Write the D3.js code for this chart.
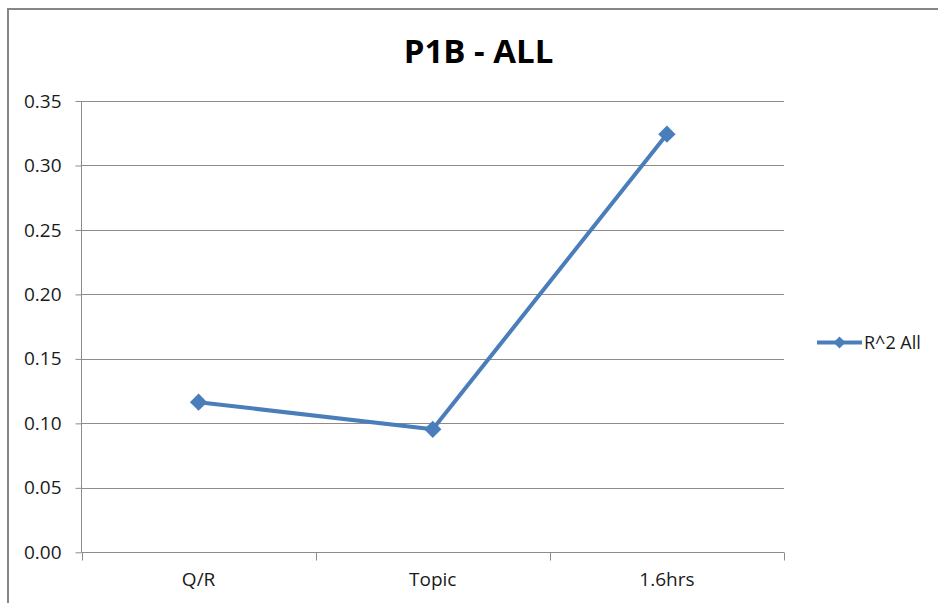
<!DOCTYPE html>
<html><head><meta charset="utf-8">
<script src="https://cdn.jsdelivr.net/npm/d3@7"></script>
<style>body{margin:0;background:#fff}svg{display:block}</style>
</head><body>
<script>
const categories = ["Q/R", "Topic", "1.6hrs"];
const values = [0.1164, 0.0954, 0.3243];
const yTicks = [0, 0.05, 0.10, 0.15, 0.20, 0.25, 0.30, 0.35];
const seriesName = "R^2 All";
const title = "P1B - ALL";

const W = 938, H = 603;
const svg = d3.select("body").append("svg").attr("width", W).attr("height", H);
svg.append("rect").attr("x", 8).attr("y", 9).attr("width", 936).attr("height", 620)
  .attr("fill", "#fff").attr("stroke", "#868686").attr("stroke-width", 2);

const L = 81.5, R = 784, T = 101, B = 552.3;
const font = "'Open Sans', 'Liberation Sans', sans-serif";
const x = d3.scaleBand().domain(categories).range([L, R]);
const y = d3.scaleLinear().domain([0, 0.35]).range([B, T]);

// gridlines
svg.append("g").selectAll("line").data(yTicks.slice(1)).join("line")
  .attr("x1", L).attr("x2", R).attr("y1", d => Math.round(y(d)) + 0.5).attr("y2", d => Math.round(y(d)) + 0.5)
  .attr("stroke", "#8c8c8c").attr("stroke-width", 1);

// y axis
const ya = svg.append("g").attr("transform", `translate(${L},0)`)
  .call(d3.axisLeft(y).tickValues(yTicks).tickFormat(d3.format(".2f")).tickSize(6).tickPadding(14));
ya.select(".domain").attr("stroke", "#8c8c8c").attr("d", `M0,${T}V${B}`);
ya.selectAll(".tick line").attr("stroke", "#8c8c8c");
ya.selectAll(".tick text").attr("font-family", font).attr("font-size", 19).attr("fill", "#1a1a1a");

// x axis
const xa = svg.append("g").attr("transform", `translate(0,${Math.round(B)+0.5})`)
  .call(d3.axisBottom(x).tickSize(0).tickPadding(20));
xa.select(".domain").attr("stroke", "#8c8c8c").attr("d", `M${L},0H${R}`);
xa.selectAll(".tick text").attr("font-family", font).attr("font-size", 19).attr("fill", "#1a1a1a").attr("dy", "0.71em");
const bounds = [L, ...categories.map(c => x(c) + x.bandwidth())];
xa.append("g").selectAll("line").data(bounds).join("line")
  .attr("x1", d => Math.round(d) + 0.5).attr("x2", d => Math.round(d) + 0.5).attr("y1", 0).attr("y2", 8)
  .attr("stroke", "#8c8c8c");

// series
const color = "#4a7ebb";
const line = d3.line().x((d, i) => x(categories[i]) + x.bandwidth() / 2).y(d => y(d));
svg.append("path").datum(values).attr("d", line).attr("fill", "none")
  .attr("stroke", color).attr("stroke-width", 4).attr("stroke-linejoin", "round");
const diamond = d3.symbol().type(d3.symbolSquare).size(150);
svg.append("g").selectAll("path").data(values).join("path")
  .attr("d", diamond())
  .attr("transform", (d, i) => `translate(${x(categories[i]) + x.bandwidth() / 2},${y(d)}) rotate(45)`)
  .attr("fill", color);

// title
svg.append("text").attr("x", 478.5).attr("y", 63).attr("text-anchor", "middle")
  .attr("font-family", font).attr("font-weight", "bold").attr("font-size", 33).attr("fill", "#000").text(title);

// legend
const lg = svg.append("g");
lg.append("line").attr("x1", 817).attr("x2", 862).attr("y1", 342.5).attr("y2", 342.5)
  .attr("stroke", color).attr("stroke-width", 4);
lg.append("path").attr("d", d3.symbol().type(d3.symbolSquare).size(72)())
  .attr("transform", "translate(839.5,342.5) rotate(45)").attr("fill", color);
lg.append("text").attr("x", 864).attr("y", 349).attr("font-family", font).attr("font-size", 18)
  .attr("fill", "#1a1a1a").text(seriesName);
</script>
</body></html>
